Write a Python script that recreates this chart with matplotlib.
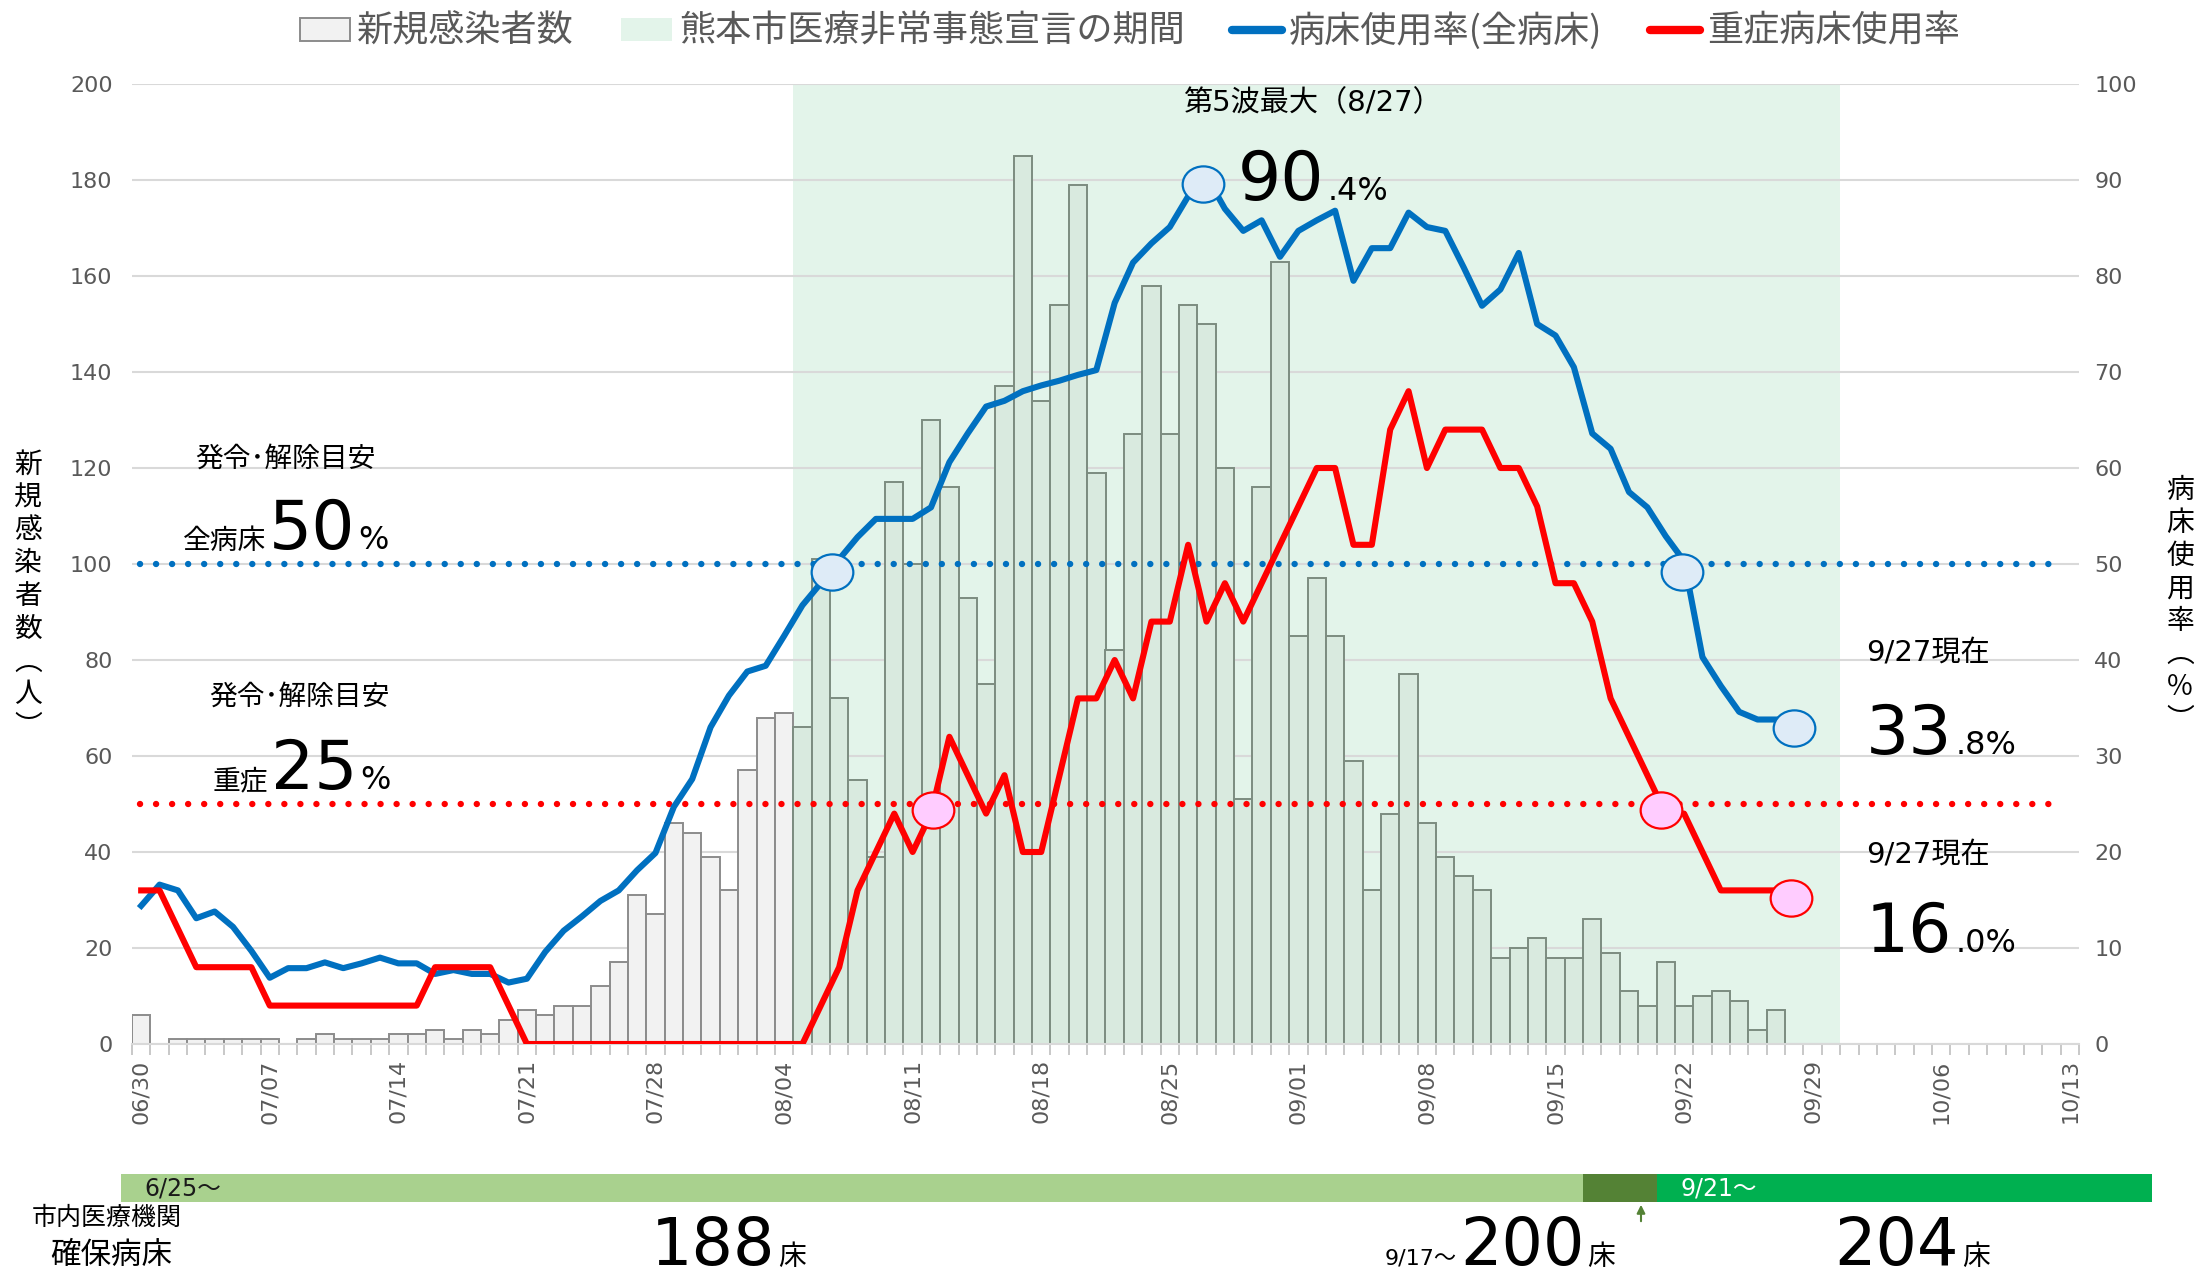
import numpy as np
import pandas as pd
import matplotlib
matplotlib.use("Agg")
import matplotlib.pyplot as plt
from matplotlib.patches import Patch, FancyArrowPatch
from matplotlib.lines import Line2D
from matplotlib.offsetbox import TextArea, HPacker, AnnotationBbox
from matplotlib.path import Path
from matplotlib.transforms import Affine2D, ScaledTranslation

# ---------------- data ----------------
START_DATE = "2021-06-30"
AXIS_END = "2021-10-13"
EMERGENCY_START = "2021-08-05"
EMERGENCY_END = "2021-09-30"

# daily new infections (persons), 06/30 .. 09/27
new_cases = [
    6, 0, 1, 1, 1, 1, 1, 1, 0, 1,            # 06/30-07/09
    2, 1, 1, 1, 2, 2, 3, 1, 3, 2,            # 07/10-07/19
    5, 7, 6, 8, 8, 12, 17, 31, 27, 46,       # 07/20-07/29
    44, 39, 32, 57, 68, 69, 66, 101, 72, 55,  # 07/30-08/08
    39, 117, 100, 130, 116, 93, 75, 137, 185, 134,  # 08/09-08/18
    154, 179, 119, 82, 127, 158, 127, 154, 150, 120,  # 08/19-08/28
    51, 116, 163, 85, 97, 85, 59, 32, 48, 77,  # 08/29-09/07
    46, 39, 35, 32, 18, 20, 22, 18, 18, 26,  # 09/08-09/17
    19, 11, 8, 17, 8, 10, 11, 9, 3, 7,       # 09/18-09/27
]

# bed occupancy rate, all beds (%)
bed_rate_all = [
    14.4, 16.6, 16.0, 13.1, 13.8, 12.2, 9.7, 6.9, 7.9, 7.9,
    8.5, 7.9, 8.4, 9.0, 8.4, 8.4, 7.3, 7.7, 7.3, 7.3,
    6.4, 6.8, 9.6, 11.8, 13.3, 14.9, 16.0, 18.1, 19.9, 24.7,
    27.6, 33.0, 36.3, 38.8, 39.4, 42.5, 45.7, 48.0, 50.5, 52.8,
    54.7, 54.7, 54.7, 55.9, 60.6, 63.6, 66.4, 67.0, 68.0, 68.6,
    69.1, 69.7, 70.2, 77.2, 81.4, 83.4, 85.1, 88.3, 90.4, 87.0,
    84.7, 85.8, 82.0, 84.7, 85.8, 86.8, 79.5, 82.9, 82.9, 86.6,
    85.1, 84.7, 80.9, 76.9, 78.6, 82.4, 75.0, 73.8, 70.5, 63.6,
    62.0, 57.5, 55.9, 52.9, 50.3, 40.3, 37.3, 34.6, 33.8, 33.8,
]

# severe-case bed occupancy rate (%)
bed_rate_severe = [
    16, 16, 12, 8, 8, 8, 8, 4, 4, 4,
    4, 4, 4, 4, 4, 4, 8, 8, 8, 8,
    4, 0, 0, 0, 0, 0, 0, 0, 0, 0,
    0, 0, 0, 0, 0, 0, 0, 4, 8, 16,
    20, 24, 20, 24, 32, 28, 24, 28, 20, 20,
    28, 36, 36, 40, 36, 44, 44, 52, 44, 48,
    44, 48, 52, 56, 60, 60, 52, 52, 64, 68,
    60, 64, 64, 64, 60, 60, 56, 48, 48, 44,
    36, 32, 28, 24, 24, 20, 16, 16, 16, 16,
]

threshold_all = 50
threshold_severe = 25

bed_starts = ["2021-06-25", "2021-09-17", "2021-09-21"]
bed_counts = [188, 200, 204]
bed_start_labels = ["6/25～", "9/17～", "9/21～"]

legend_labels = ["新規感染者数", "熊本市医療非常事態宣言の期間",
                 "病床使用率(全病床)", "重症病床使用率"]
left_ylabel = "新規感染者数︵人︶"
right_ylabel = "病床使用率︵％︶"

# ---------------- style ----------------
JP = ["Noto Sans CJK JP", "DejaVu Sans"]
NUM = ["DejaVu Sans", "Noto Sans CJK JP"]
plt.rcParams["font.family"] = JP

BLUE = "#0070C0"
RED = "#FF0000"
SHADE = "#E3F4EA"
GRID = "#D9D9D9"
TICKC = "#595959"

W, H, DPI = 2201, 1275, 100
fig = plt.figure(figsize=(W / DPI, H / DPI), dpi=DPI)
fig.patch.set_facecolor("white")

def fx(px):
    return px / W

def fy(py):
    return 1 - py / H

L, R, T, B = 132, 2079, 84, 1044
ax = fig.add_axes([fx(L), fy(B), fx(R - L), (B - T) / H])
ax2 = ax.twinx()

t0 = pd.Timestamp(START_DATE)
n = len(new_cases)
x = np.arange(n)
x_end = (pd.Timestamp(AXIS_END) - t0).days
em_lo = (pd.Timestamp(EMERGENCY_START) - t0).days - 0.5
em_hi = (pd.Timestamp(EMERGENCY_END) - t0).days + 0.5

# emergency period shading
ax.axvspan(em_lo, em_hi, color=SHADE, lw=0, zorder=0.2)

inside = (x > em_lo) & (x < em_hi)
faces = np.where(inside, "#D9EADF", "#F2F2F2")
edges = np.where(inside, "#7C8C80", "#8C8C8C")
ax.bar(x, new_cases, width=1.0, color=faces, edgecolor=edges, linewidth=1.4, zorder=2)

ax.set_xlim(-0.5, x_end + 0.5)
ax.set_ylim(0, 200)
ax.set_yticks(np.arange(0, 201, 20))
ticks = np.arange(0, x_end + 1, 7)
ax.set_xticks(ticks)
ax.set_xticklabels([(t0 + pd.Timedelta(days=int(k))).strftime("%m/%d") for k in ticks],
                   rotation=90, fontsize=16, color=TICKC, family="DejaVu Sans")
ax.set_xticks(np.arange(-0.5, x_end + 1, 1), minor=True)
ax.tick_params(axis="x", which="major", length=0, pad=11)
ax.tick_params(axis="x", which="minor", length=8, color="#BFBFBF", width=1.2)
ax.tick_params(axis="y", length=0, pad=14, labelsize=16, labelcolor=TICKC)
for lbl in ax.get_yticklabels():
    lbl.set_family("DejaVu Sans")

ax.set_axisbelow(True)
ax.yaxis.grid(True, color=GRID, lw=1.5)
for s in ax.spines.values():
    s.set_visible(False)
ax.spines["bottom"].set_visible(True)
ax.spines["bottom"].set_color(GRID)
ax.spines["bottom"].set_linewidth(1.5)

ax2.set_ylim(0, 100)
ax2.set_yticks(np.arange(0, 101, 10))
ax2.tick_params(axis="y", length=0, pad=11, labelsize=16, labelcolor=TICKC)
for lbl in ax2.get_yticklabels():
    lbl.set_family("DejaVu Sans")
for s in ax2.spines.values():
    s.set_visible(False)

# threshold dotted lines
dot = (0, (0.01, 2.5))
ax2.axhline(threshold_all, xmin=0.004, xmax=0.99, color=BLUE, lw=4.6,
            ls=dot, dash_capstyle="round", zorder=3)
ax2.axhline(threshold_severe, xmin=0.004, xmax=0.99, color=RED, lw=4.6,
            ls=dot, dash_capstyle="round", zorder=3)

# lines
ax2.plot(x, bed_rate_all, color=BLUE, lw=4.4, solid_joinstyle="round", zorder=4)
ax2.plot(x, bed_rate_severe, color=RED, lw=4.4, solid_joinstyle="round", zorder=4)

# circle markers
ell = Path.unit_circle().transformed(Affine2D().scale(1.0, 0.87))

def shifted(dx_px, dy_px):
    return ax2.transData + ScaledTranslation(dx_px / DPI, -dy_px / DPI, fig.dpi_scale_trans)

def crossings(vals, level):
    out = []
    for i in range(len(vals) - 1):
        a, b = vals[i], vals[i + 1]
        if (a - level) * (b - level) < 0:
            out.append(i + (level - a) / (b - a))
    return out

def mark(xv, yv, fc, ec, dx=0, dy=8):
    ax2.plot([xv], [yv], marker=ell, ms=30, mfc=fc, mec=ec, mew=1.6,
             ls="none", zorder=6, transform=shifted(dx, dy))

cb = crossings(bed_rate_all, threshold_all)
cr = crossings(bed_rate_severe, threshold_severe)
for c in (cb[0], cb[-1]):
    mark(c, threshold_all, "#DEEBF7", BLUE, dx=-3)
for c in (cr[0], cr[-1]):
    mark(c, threshold_severe, "#FFCCFF", RED, dy=6)
ipk = int(np.argmax(bed_rate_all))
mark(ipk, bed_rate_all[ipk], "#DEEBF7", BLUE, dx=-4)
mark(n - 1, bed_rate_all[-1], "#DEEBF7", BLUE, dx=18)
mark(n - 1, bed_rate_severe[-1], "#FFCCFF", RED, dx=15)

# ---------------- texts ----------------
def ftext(xp, yp, s, **kw):
    return fig.text(fx(xp), fy(yp), s, **kw)

def rich(parts, xp, yp, align=(0.5, 0.0), sep=2):
    kids = [TextArea(s, textprops=dict(fontsize=fs, color=c, family=fam))
            for s, fs, c, fam in parts]
    box = HPacker(children=kids, align="baseline", pad=0, sep=sep)
    ab = AnnotationBbox(box, (xp, H - yp), xycoords="figure pixels",
                        box_alignment=align, frameon=False, pad=0,
                        annotation_clip=False)
    fig.add_artist(ab)

K = "black"
ftext(285, 459, "発令･解除目安", fontsize=20, color=K, ha="center", va="center")
rich([("全病床", 20, K, JP), (f"{threshold_all}", 49, K, NUM), ("%", 23, K, NUM)], 286, 563)
ftext(299, 697, "発令･解除目安", fontsize=20, color=K, ha="center", va="center")
rich([("重症", 20, K, JP), (f"{threshold_severe}", 49, K, NUM), ("%", 23, K, NUM)], 302, 803)

pk = bed_rate_all[ipk]
pk_date = (t0 + pd.Timedelta(days=ipk))
ftext(1312, 103, f"第5波最大（{pk_date.month}/{pk_date.day}）", fontsize=21, color=K,
      ha="center", va="center", family=NUM)
ip, fp = f"{pk:.1f}".split(".")
rich([(ip, 49, K, NUM), ("." + fp + "%", 23, K, NUM)], 1313, 214)

last = t0 + pd.Timedelta(days=n - 1)
lab = f"{last.month}/{last.day}現在"
ftext(1866, 653, lab, fontsize=21, color=K, ha="left", va="center", family=NUM)
ia, fa = f"{bed_rate_all[-1]:.1f}".split(".")
rich([(ia, 49, K, NUM), ("." + fa + "%", 23, K, NUM)], 1866, 768, align=(0, 0))
ftext(1866, 855, lab, fontsize=21, color=K, ha="left", va="center", family=NUM)
isv, fsv = f"{bed_rate_severe[-1]:.1f}".split(".")
rich([(isv, 49, K, NUM), ("." + fsv + "%", 23, K, NUM)], 1866, 966, align=(0, 0))

# axis titles (vertical)
ftext(28, 596, "\n".join(left_ylabel), fontsize=20, color=K, ha="center", va="center",
      linespacing=1.12)
ftext(2180, 605, "\n".join(right_ylabel), fontsize=20, color=K, ha="center", va="center",
      linespacing=1.12)

# legend
handles = [Patch(facecolor="#F2F2F2", edgecolor="#8C8C8C", lw=1.4),
           Patch(facecolor=SHADE, edgecolor="none"),
           Line2D([], [], color=BLUE, lw=6, solid_capstyle="round"),
           Line2D([], [], color=RED, lw=6, solid_capstyle="round")]
fig.legend(handles, legend_labels, loc="center", bbox_to_anchor=(fx(1130), fy(31)),
           ncol=4, frameon=False, fontsize=26, handlelength=1.4, handleheight=0.6,
           handletextpad=0.2, columnspacing=1.3, labelcolor=TICKC)

# ---------------- secured beds bar ----------------
BL, BR, BT, BB = 121, 2152, 1174, 1202
bax = fig.add_axes([fx(BL), fy(BB), fx(BR - BL), (BB - BT) / H])
pxday = (R - L) / (x_end + 1)
bx0 = -0.5 + (BL - L) / pxday
bx1 = x_end + 0.5 + (BR - R) / pxday
bax.set_xlim(bx0, bx1)
bax.set_ylim(-0.5, 0.5)
bax.axis("off")
seg_starts = [(pd.Timestamp(s) - t0).days - 0.5 for s in bed_starts]
seg_ends = seg_starts[1:] + [bx1]
bed_colors = ["#A9D18E", "#548235", "#00B050"]
for s0, s1, c in zip(seg_starts, seg_ends, bed_colors):
    bax.barh(0, s1 - s0, left=s0, height=1.0, color=c, lw=0)
bax.annotate(bed_start_labels[0], xy=(max(seg_starts[0], bx0), 0), xytext=(17, 0),
             textcoords="offset points", va="center", ha="left", fontsize=17,
             color="#1a1a1a", family=NUM)
bax.annotate(bed_start_labels[2], xy=(seg_starts[2], 0), xytext=(17, 0),
             textcoords="offset points", va="center", ha="left", fontsize=17,
             color="white", family=NUM)

fig.add_artist(FancyArrowPatch(
    (1641, H - 1224), (1641, H - 1202), transform=None,
    arrowstyle="-|>", mutation_scale=12, color="#548235", lw=1.5))

ftext(107, 1218, "市内医療機関", fontsize=18, color=K, ha="center", va="center")
ftext(111, 1256, "確保病床", fontsize=22, color=K, ha="center", va="center")

rich([(str(bed_counts[0]), 47, K, NUM), ("床", 20, K, JP)], 728, 1279)
rich([(bed_start_labels[1], 16, K, NUM), (str(bed_counts[1]), 47, K, NUM), ("床", 20, K, JP)],
     1500, 1279)
rich([(str(bed_counts[2]), 47, K, NUM), ("床", 20, K, JP)], 1912, 1279)

fig.savefig("out.png", dpi=DPI, facecolor="white")
